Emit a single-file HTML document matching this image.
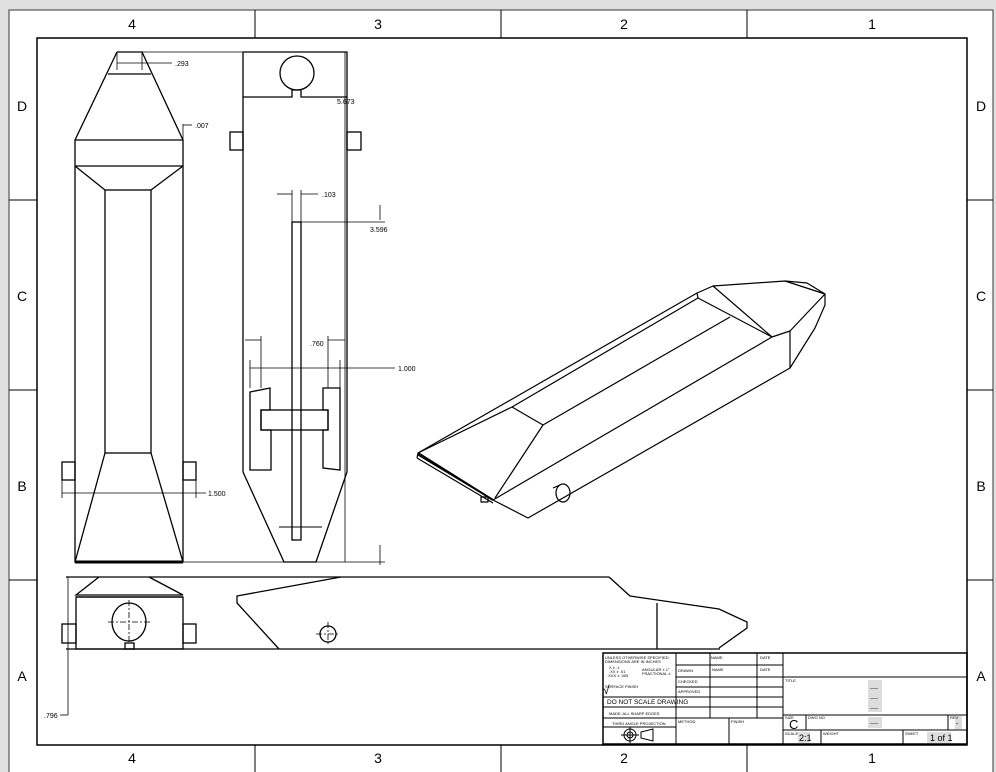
<!DOCTYPE html>
<html><head><meta charset="utf-8"><style>
html,body{margin:0;padding:0;background:#e0e0e0;}
svg{display:block;font-family:"Liberation Sans",sans-serif;}
</style></head><body>
<svg width="996" height="772" viewBox="0 0 996 772" xmlns="http://www.w3.org/2000/svg">
<rect x="9" y="10" width="984" height="770" fill="#fff" stroke="#555" stroke-width="1.2"/>
<rect x="37" y="38" width="930" height="707" fill="#fff" stroke="#000" stroke-width="1.5"/>
<g stroke="#000" stroke-width="1">
<line x1="255" y1="10" x2="255" y2="38"/><line x1="501" y1="10" x2="501" y2="38"/><line x1="747" y1="10" x2="747" y2="38"/>
<line x1="255" y1="745" x2="255" y2="772"/><line x1="501" y1="745" x2="501" y2="772"/><line x1="747" y1="745" x2="747" y2="772"/>
<line x1="9" y1="200" x2="37" y2="200"/><line x1="9" y1="390" x2="37" y2="390"/><line x1="9" y1="580" x2="37" y2="580"/>
<line x1="967" y1="200" x2="993" y2="200"/><line x1="967" y1="390" x2="993" y2="390"/><line x1="967" y1="580" x2="993" y2="580"/>
</g>
<g font-size="14" text-anchor="middle" fill="#000">
<text x="132" y="29">4</text><text x="378" y="29">3</text><text x="624" y="29">2</text><text x="872" y="29">1</text>
<text x="132" y="763">4</text><text x="378" y="763">3</text><text x="624" y="763">2</text><text x="872" y="763">1</text>
<text x="22" y="111">D</text><text x="22" y="301">C</text><text x="22" y="491">B</text><text x="22" y="681">A</text>
<text x="981" y="111">D</text><text x="981" y="301">C</text><text x="981" y="491">B</text><text x="981" y="681">A</text>
</g>
<g fill="none" stroke="#000" stroke-width="1.3">
<polyline points="117,52 142,52 183,140 183,562 75,562 75,140 117,52"/>
<line x1="108" y1="74" x2="151" y2="74"/>
<line x1="75" y1="140" x2="183" y2="140"/><line x1="75" y1="166" x2="183" y2="166"/>
<rect x="105" y="190" width="46" height="263"/>
<line x1="75" y1="166" x2="105" y2="190"/><line x1="183" y1="166" x2="151" y2="190"/>
<line x1="105" y1="453" x2="75" y2="562"/><line x1="151" y1="453" x2="183" y2="562"/>
<rect x="62" y="462" width="13" height="18"/><rect x="183" y="462" width="13" height="18"/>
<line x1="75" y1="562" x2="183" y2="562" stroke-width="3"/>
<polyline points="243,52 347,52 347,472 316,562 284,562 243,472 243,52"/>
<polyline points="243,97 292,97 292,90 301,90 301,97 347,97"/>
<circle cx="297" cy="73" r="17"/>
<rect x="230" y="132" width="13" height="18"/><rect x="347" y="132" width="14" height="18"/>
<rect x="292" y="222" width="9" height="318"/>
<line x1="279" y1="527" x2="322" y2="527" stroke-width="1"/>
<polygon points="250,392 270,388 270,410 261,410 261,430 271,430 271,470 250,470"/>
<polygon points="340,388 323,388 323,410 328,410 328,430 323,430 323,468 340,470"/>
<rect x="261" y="410" width="67" height="20"/>
</g>
<g fill="none" stroke="#000" stroke-width="0.8">
<line x1="142" y1="52" x2="243" y2="52"/>
<line x1="183" y1="562" x2="385" y2="562"/>
<line x1="117" y1="52" x2="117" y2="70"/><line x1="142" y1="52" x2="142" y2="70"/>
<line x1="117" y1="63" x2="142" y2="63"/><line x1="142" y1="63" x2="172" y2="63"/>
<line x1="183" y1="124" x2="183" y2="148"/><line x1="183" y1="125" x2="192" y2="125"/>
<line x1="62" y1="480" x2="62" y2="498"/><line x1="196" y1="480" x2="196" y2="498"/>
<line x1="62" y1="493" x2="206" y2="493"/>
<line x1="292" y1="190" x2="292" y2="222"/><line x1="301" y1="190" x2="301" y2="222"/>
<line x1="277" y1="194" x2="292" y2="194"/><line x1="301" y1="194" x2="318" y2="194"/>
<line x1="301" y1="222" x2="385" y2="222"/><line x1="380" y1="205" x2="380" y2="220"/>
<line x1="345" y1="52" x2="345" y2="562"/>
<line x1="380" y1="545" x2="380" y2="565"/>
<line x1="261" y1="336" x2="261" y2="388"/><line x1="328" y1="336" x2="328" y2="388"/>
<line x1="245" y1="340" x2="261" y2="340"/><line x1="328" y1="340" x2="345" y2="340"/>
<line x1="250" y1="360" x2="250" y2="388"/><line x1="340" y1="360" x2="340" y2="388"/>
<line x1="250" y1="368" x2="395" y2="368"/>
<line x1="68" y1="577" x2="68" y2="715"/><line x1="60" y1="715" x2="68" y2="715"/>
</g>
<g font-size="7" fill="#000">
<text x="175" y="66">.293</text><text x="195" y="128">.007</text><text x="208" y="496">1.500</text>
<text x="322" y="197">.103</text><text x="370" y="232">3.596</text><text x="337" y="104">5.673</text>
<text x="310" y="346">.760</text><text x="398" y="371">1.000</text><text x="44" y="718">.796</text>
</g>
<g fill="none" stroke="#000" stroke-width="1.3">
<line x1="66" y1="577" x2="609" y2="577"/>
<polyline points="99,577 76,595 183,595 149,577"/>
<line x1="76" y1="597" x2="183" y2="597"/>
<rect x="76" y="597" width="107" height="52"/>
<ellipse cx="129" cy="622" rx="17" ry="19"/>
<rect x="125" y="643" width="9" height="6"/>
<rect x="62" y="624" width="14" height="19"/><rect x="183" y="624" width="13" height="19"/>
<polyline points="279,649 237,603 237,596 341,577"/>
<polyline points="609,577 630,596 719,609 747,622 747,628 719,648"/>
<line x1="66" y1="649" x2="720" y2="649"/>
<line x1="657" y1="603" x2="657" y2="649"/>
<circle cx="328" cy="634" r="8"/>
</g>
<g stroke="#000" stroke-width="0.8" stroke-dasharray="6,2,2,2">
<line x1="108" y1="622" x2="150" y2="622"/><line x1="129" y1="600" x2="129" y2="644"/>
<line x1="316" y1="634" x2="340" y2="634"/><line x1="328" y1="622" x2="328" y2="646"/>
</g>
<g fill="none" stroke="#000" stroke-width="1.2" stroke-linejoin="round">
<polyline points="418,453 697,293 713,286 785,281 807,283 825,294 825,305 815,328 790,368 528,518 493,500 418,455"/>
<line x1="417" y1="458" x2="493" y2="503"/><line x1="418" y1="453" x2="417" y2="458"/>
<line x1="418" y1="453" x2="493" y2="500" stroke-width="2"/>
<line x1="418" y1="453" x2="512" y2="407"/>
<polyline points="512,407 543,425 495,498"/>
<line x1="512" y1="407" x2="698" y2="298"/>
<line x1="543" y1="425" x2="730" y2="317"/>
<polyline points="697,293 698,298 772,337"/>
<line x1="713" y1="286" x2="772" y2="337"/>
<polyline points="772,337 790,331 790,368"/>
<line x1="790" y1="331" x2="825" y2="294"/>
<line x1="785" y1="281" x2="825" y2="294"/>
<line x1="772" y1="337" x2="493" y2="500"/>
<ellipse cx="563" cy="493" rx="7" ry="9"/>
<line x1="553" y1="488" x2="560" y2="485"/>
<rect x="481" y="497" width="7" height="5"/>
</g>
<g fill="none" stroke="#000" stroke-width="1">
<rect x="603" y="653" width="364" height="91" stroke-width="1.5"/>
<line x1="676" y1="653" x2="676" y2="744"/>
<line x1="710" y1="653" x2="710" y2="718"/>
<line x1="757" y1="653" x2="757" y2="718"/>
<line x1="783" y1="653" x2="783" y2="744"/>
<line x1="676" y1="665" x2="783" y2="665"/>
<line x1="676" y1="677" x2="783" y2="677"/>
<line x1="676" y1="687" x2="783" y2="687"/>
<line x1="603" y1="697" x2="783" y2="697"/>
<line x1="603" y1="707" x2="783" y2="707"/>
<line x1="603" y1="718" x2="783" y2="718"/>
<line x1="603" y1="727" x2="676" y2="727"/>
<line x1="729" y1="718" x2="729" y2="744"/>
<line x1="783" y1="677" x2="967" y2="677"/>
<line x1="783" y1="715" x2="967" y2="715"/>
<line x1="783" y1="730" x2="967" y2="730"/>
<line x1="806" y1="715" x2="806" y2="730"/>
<line x1="948" y1="715" x2="948" y2="730"/>
<line x1="821" y1="730" x2="821" y2="744"/>
<line x1="903" y1="730" x2="903" y2="744"/>
<circle cx="630" cy="735" r="6"/><circle cx="630" cy="735" r="3"/>
<line x1="621" y1="735" x2="639" y2="735"/><line x1="630" y1="727" x2="630" y2="743"/>
<polygon points="641,732 653,729 653,741 641,738"/>
</g>
<g fill="#ddd"><rect x="868" y="680" width="14" height="32"/><rect x="868" y="717" width="14" height="11"/><rect x="955" y="716" width="7" height="13"/><rect x="798" y="732" width="12" height="11"/><rect x="927" y="732" width="24" height="11"/></g>
<g font-size="4" fill="#000">
<text x="605" y="659">UNLESS OTHERWISE SPECIFIED:</text><text x="605" y="663">DIMENSIONS ARE IN INCHES</text>
<text x="609" y="669">X ± .1</text><text x="609" y="673">.XX ± .01</text><text x="607" y="677">.XXX ± .005</text>
<text x="642" y="671">ANGULAR ± 1°</text><text x="642" y="675">FRACTIONAL ±</text>
<text x="605" y="688">SURFACE FINISH</text>
<text x="678" y="672">DRAWN</text><text x="678" y="683">CHECKED</text><text x="678" y="693">APPROVED</text>
<text x="711" y="659">NAME</text><text x="760" y="659">DATE</text>
<text x="712" y="671">NAME</text><text x="760" y="671">DATE</text>
<text x="609" y="715">MADE: ALL SHARP EDGES</text><text x="612" y="725">THIRD ANGLE PROJECTION</text>
<text x="678" y="723">METHOD</text><text x="731" y="723">FINISH</text>
<text x="785" y="682">TITLE</text><text x="785" y="719">SIZE</text><text x="808" y="719">DWG NO</text><text x="950" y="719">REV</text>
<text x="785" y="735">SCALE</text><text x="823" y="735">WEIGHT</text><text x="905" y="735">SHEET</text>
</g>
<g font-size="6.5" fill="#000"><text x="607" y="704">DO NOT SCALE DRAWING</text></g>
<g font-size="9" fill="#000"><text x="603" y="694" font-size="12">√</text>
<text x="870" y="690" font-size="6">----</text><text x="870" y="700" font-size="6">----</text><text x="870" y="710" font-size="6">----</text><text x="870" y="725" font-size="6">----</text>
<text x="789" y="729" font-size="13">C</text><text x="956" y="726" font-size="7">-</text>
<text x="799" y="741">2:1</text><text x="930" y="741">1 of 1</text></g>
</svg>
</body></html>
